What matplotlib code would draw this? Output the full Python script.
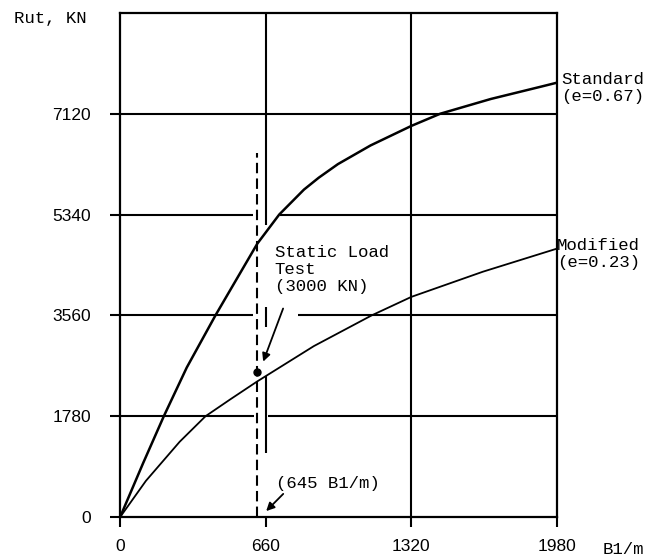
import matplotlib.pyplot as plt
import numpy as np

# values
std_x = [0, 104, 198, 302, 432, 622, 721, 833, 900, 987, 1135, 1320, 1451, 1680, 1910, 1980]
std_y = [0, 950, 1780, 2640, 3560, 4828, 5340, 5780, 5990, 6230, 6560, 6905, 7120, 7380, 7600, 7668]
mod_x = [0, 117, 270, 387, 500, 622, 878, 1140, 1320, 1644, 1980]
mod_y = [0, 640, 1330, 1780, 2080, 2396, 3018, 3560, 3887, 4331, 4739]
test_x = 622
test_y = 2556
x_ticks = [0, 660, 1320, 1980]
y_ticks = [0, 1780, 3560, 5340, 7120]

mono = "Liberation Mono"
sans = "Liberation Sans"

fig = plt.figure(figsize=(6.6, 5.59), dpi=100)
ax = fig.add_axes([0.182, 0.075, 0.662, 0.902])
ax.set_xlim(0, 1980)
ax.set_ylim(0, 8900)

lw = 1.5
# horizontal grid lines, broken around the label / dashed line
ax.hlines(7120, 0, 1980, color="k", lw=lw)
ax.hlines([5340, 5340], [0, 725], [600, 1980], color="k", lw=lw)
ax.hlines([3560, 3560], [0, 806], [600, 1980], color="k", lw=lw)
ax.hlines([1780, 1780], [0, 671], [605, 1980], color="k", lw=lw)
# vertical grid lines
ax.vlines(1320, 0, 8900, color="k", lw=lw)
ax.vlines([660, 660, 660], [5150, 3355, 1136], [8900, 3710, 2485], color="k", lw=lw)

# dashed load line
ax.plot([test_x, test_x], [0, 6425], color="k", lw=1.5, ls=(0, (5, 2.5)))

ax.plot(std_x, std_y, color="k", lw=1.8)
ax.plot(mod_x, mod_y, color="k", lw=1.3)
ax.plot([test_x], [test_y], "ko", ms=5)

for s in ax.spines.values():
    s.set_linewidth(1.6)

ax.set_xticks(x_ticks)
ax.set_yticks(y_ticks)
ax.set_xticklabels([str(v) for v in x_ticks], fontfamily=sans, fontsize=12.5)
ax.set_yticklabels([str(v) for v in y_ticks], fontfamily=sans, fontsize=12.5)
ax.tick_params(direction="out", length=7, width=1.5)
ax.tick_params(axis="y", pad=14)
ax.tick_params(axis="x", pad=9)

fig.text(14 / 660, 1 - 18 / 559, "Rut, KN", fontfamily=mono, fontsize=12.5, va="center")
fig.text(603 / 660, 1 - 549 / 559, "B1/m", fontfamily=mono, fontsize=12.5, va="center")

ax.text(1.01, 7860, "Standard\n(e=0.67)", transform=ax.get_yaxis_transform(),
        fontfamily=mono, fontsize=12.5, va="top", linespacing=1.2)
ax.text(1.0, 4930, "Modified\n(e=0.23)", transform=ax.get_yaxis_transform(),
        fontfamily=mono, fontsize=12.5, va="top", linespacing=1.2)
ax.text(700, 4800, "Static Load\nTest\n(3000 KN)", fontfamily=mono, fontsize=12.5,
        va="top", linespacing=1.18)
ax.annotate("", xy=(644, 2698), xytext=(743, 3727),
            arrowprops=dict(arrowstyle="-|>", color="k", lw=1.3, mutation_scale=12))
ax.text(705, 600, "(645 B1/m)", fontfamily=mono, fontsize=12.5, va="center")
ax.annotate("", xy=(653, 71), xytext=(748, 444),
            arrowprops=dict(arrowstyle="-|>", color="k", lw=1.3, mutation_scale=12))

fig.savefig("out.png", dpi=100)
